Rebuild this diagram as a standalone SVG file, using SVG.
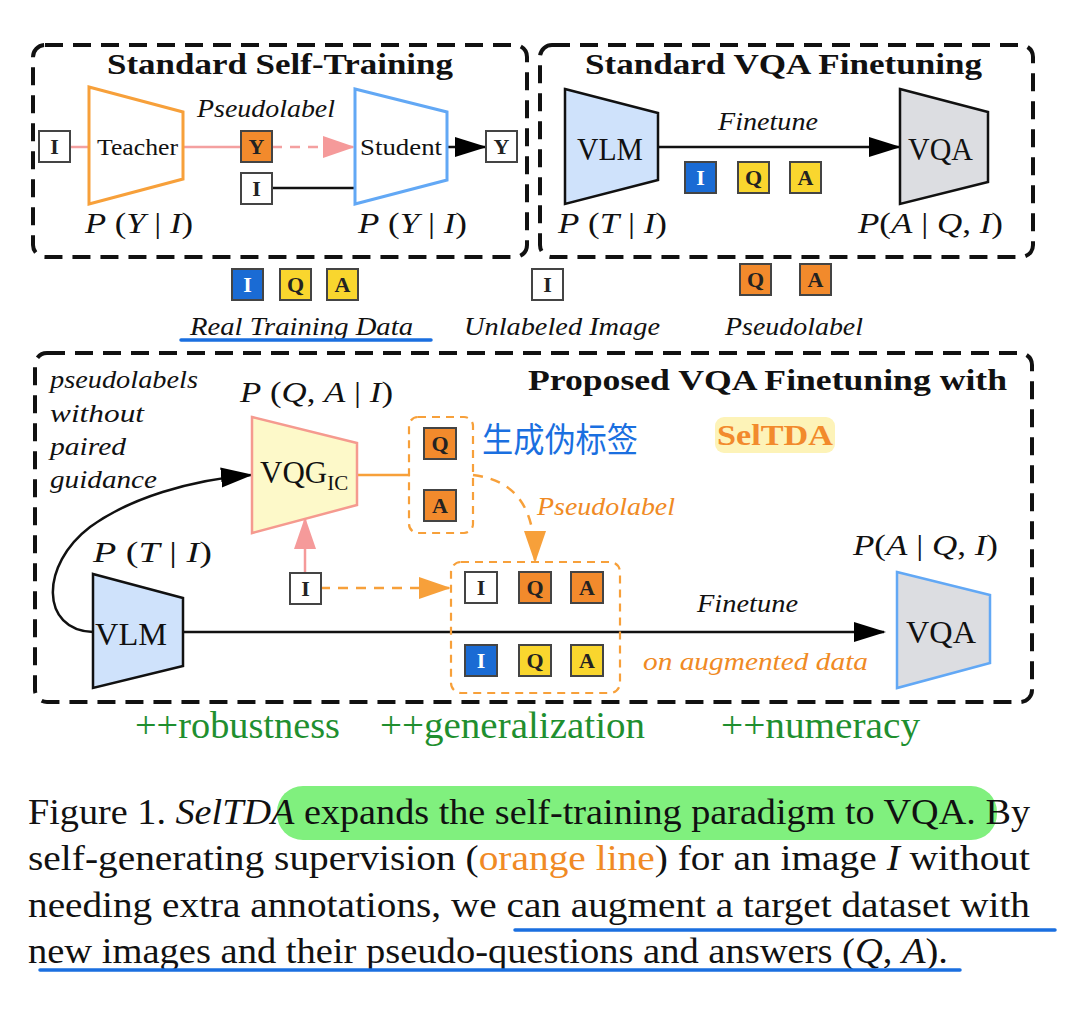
<svg xmlns="http://www.w3.org/2000/svg" width="1074" height="1011" viewBox="0 0 1074 1011">
<style>
text{font-family:"Liberation Serif","Times New Roman",Times,serif}
.panel{fill:none;stroke:#111;stroke-width:4;stroke-dasharray:18 10}
.title{font-weight:bold;font-size:29px;fill:#111}
.it{font-style:italic;font-size:25px;fill:#111}
.rm{font-size:23px;fill:#111}
.math{font-size:29px;fill:#111}
.math .v{font-style:italic}
.big{font-size:31px;fill:#111}
.box{stroke:#444;stroke-width:2}
.bw{fill:#fff}.bb{fill:#1a6bd4}.by{fill:#f9d62e}.bo{fill:#f28a2c}
.bl{font-weight:bold;font-size:22px;text-anchor:middle;fill:#222}
.green{font-size:38px;fill:#1f8f2f}
.cap{font-size:36px;fill:#111}
.ul{stroke:#1a6fe0;stroke-width:3.5;stroke-linecap:round;fill:none}
</style>
<defs>
<marker id="ab" markerUnits="userSpaceOnUse" markerWidth="32" markerHeight="22" refX="30" refY="10" orient="auto"><path d="M0,0 L32,10 L0,20 z" fill="#000"/></marker>
<marker id="ap" markerUnits="userSpaceOnUse" markerWidth="32" markerHeight="24" refX="30" refY="11" orient="auto"><path d="M0,0 L32,11 L0,22 z" fill="#f59a9a"/></marker>
<marker id="ao" markerUnits="userSpaceOnUse" markerWidth="32" markerHeight="24" refX="30" refY="11" orient="auto"><path d="M0,0 L32,11 L0,22 z" fill="#f7a03a"/></marker>
</defs>
<rect width="1074" height="1011" fill="#fff"/>

<!-- panels -->
<g id="panel-self-training">
<rect class="panel" x="33" y="45" width="494" height="212" rx="12"/>
<text class="title" x="107" y="74" textLength="346" lengthAdjust="spacingAndGlyphs">Standard Self-Training</text>
</g>
<g id="panel-vqa-finetuning">
<rect class="panel" x="540" y="45" width="493" height="212" rx="12"/>
<text class="title" x="585" y="74" textLength="397" lengthAdjust="spacingAndGlyphs">Standard VQA Finetuning</text>
</g>
<g id="panel-proposed">
<rect class="panel" x="35" y="353" width="997" height="349" rx="12"/>
<text class="title" x="528" y="390" textLength="479" lengthAdjust="spacingAndGlyphs">Proposed VQA Finetuning with</text>
<rect x="715" y="417" width="120" height="36" rx="9" fill="#fdf3b8"/>
<text class="title" x="717" y="445" textLength="116" lengthAdjust="spacingAndGlyphs" style="fill:#f28a2c">SelTDA</text>
</g>

<!-- connectors -->
<g id="connectors" fill="none">
<line x1="70" y1="147" x2="89" y2="147" stroke="#f4a0a0" stroke-width="2.5"/>
<line x1="183" y1="147" x2="241" y2="147" stroke="#f4a0a0" stroke-width="2.5"/>
<line x1="272" y1="147" x2="353" y2="147" stroke="#f4a0a0" stroke-width="2.5" stroke-dasharray="10 8" marker-end="url(#ap)"/>
<line x1="272" y1="188" x2="355" y2="188" stroke="#111" stroke-width="2.5"/>
<line x1="447" y1="147" x2="485" y2="147" stroke="#111" stroke-width="2.5" marker-end="url(#ab)"/>
<line x1="658" y1="147" x2="899" y2="147" stroke="#111" stroke-width="2.5" marker-end="url(#ab)"/>
<path d="M93 632 C40 630, 40 565, 90 527 C130 498, 190 480, 251 475" stroke="#111" stroke-width="2.5" marker-end="url(#ab)"/>
<line x1="183" y1="632" x2="884" y2="632" stroke="#111" stroke-width="2.5" marker-end="url(#ab)"/>
<line x1="305" y1="573" x2="305" y2="519" stroke="#f59a9a" stroke-width="2.5" marker-end="url(#ap)"/>
<line x1="320" y1="588" x2="449" y2="588" stroke="#f7a03a" stroke-width="2.5" stroke-dasharray="10 8" marker-end="url(#ao)"/>
<line x1="357" y1="475" x2="410" y2="475" stroke="#f7a03a" stroke-width="2.5"/>
<path d="M473 475 C510 480, 535 500, 535 561" stroke="#f7a03a" stroke-width="2.5" stroke-dasharray="10 8" marker-end="url(#ao)"/>
</g>

<!-- top-left nodes -->
<g id="n-tl-input"><rect class="box bw" x="39" y="131" width="31" height="31"/><text class="bl" x="54.5" y="154">I</text></g>
<g id="n-teacher">
<path d="M89 87 L183 112 L183 179 L89 204 Z" fill="#fff" stroke="#f7a03a" stroke-width="3"/>
<text class="rm" x="97" y="155" textLength="81" lengthAdjust="spacingAndGlyphs">Teacher</text>
<text class="math" x="85" y="233" textLength="108" lengthAdjust="spacingAndGlyphs"><tspan class="v">P</tspan> (<tspan class="v">Y</tspan> | <tspan class="v">I</tspan>)</text>
</g>
<g id="n-pseudo-y">
<text class="it" x="197" y="117" textLength="138" lengthAdjust="spacingAndGlyphs">Pseudolabel</text>
<rect class="box bo" x="241" y="131" width="31" height="31"/><text class="bl" x="256.5" y="154">Y</text>
</g>
<g id="n-tl-input2"><rect class="box bw" x="241" y="173" width="31" height="31"/><text class="bl" x="256.5" y="196">I</text></g>
<g id="n-student">
<path d="M355 89 L447 112 L447 180 L355 204 Z" fill="#fff" stroke="#62a8f5" stroke-width="3"/>
<text class="rm" x="360" y="155" textLength="82" lengthAdjust="spacingAndGlyphs">Student</text>
<text class="math" x="358" y="233" textLength="109" lengthAdjust="spacingAndGlyphs"><tspan class="v">P</tspan> (<tspan class="v">Y</tspan> | <tspan class="v">I</tspan>)</text>
</g>
<g id="n-tl-output"><rect class="box bw" x="486" y="131" width="31" height="31"/><text class="bl" x="501.5" y="154">Y</text></g>

<!-- top-right nodes -->
<g id="n-vlm-top">
<path d="M565 89 L658 113 L658 180 L565 204 Z" fill="#cfe2fb" stroke="#111" stroke-width="2.5"/>
<text class="big" x="577" y="160" textLength="66" lengthAdjust="spacingAndGlyphs">VLM</text>
<text class="math" x="558" y="233" textLength="109" lengthAdjust="spacingAndGlyphs"><tspan class="v">P</tspan> (<tspan class="v">T</tspan> | <tspan class="v">I</tspan>)</text>
</g>
<g id="n-finetune-top">
<text class="it" x="718" y="130" textLength="100" lengthAdjust="spacingAndGlyphs">Finetune</text>
<rect class="box bb" x="685" y="162" width="31" height="31"/><text class="bl" x="700.5" y="185" style="fill:#fff">I</text>
<rect class="box by" x="738" y="162" width="31" height="31"/><text class="bl" x="753.5" y="185">Q</text>
<rect class="box by" x="790" y="162" width="31" height="31"/><text class="bl" x="805.5" y="185">A</text>
</g>
<g id="n-vqa-top">
<path d="M900 89 L988 112 L988 182 L900 204 Z" fill="#dcdde1" stroke="#111" stroke-width="2.5"/>
<text class="big" x="908" y="160" textLength="65" lengthAdjust="spacingAndGlyphs">VQA</text>
<text class="math" x="858" y="233" textLength="145" lengthAdjust="spacingAndGlyphs"><tspan class="v">P</tspan>(<tspan class="v">A</tspan> | <tspan class="v">Q</tspan>, <tspan class="v">I</tspan>)</text>
</g>

<!-- legend -->
<g id="legend-real">
<rect class="box bb" x="232" y="269" width="31" height="31"/><text class="bl" x="247.5" y="292" style="fill:#fff">I</text>
<rect class="box by" x="280" y="269" width="31" height="31"/><text class="bl" x="295.5" y="292">Q</text>
<rect class="box by" x="327" y="269" width="31" height="31"/><text class="bl" x="342.5" y="292">A</text>
<text class="it" x="190" y="335" textLength="223" lengthAdjust="spacingAndGlyphs">Real Training Data</text>
<line class="ul" x1="181" y1="340" x2="431" y2="340"/>
</g>
<g id="legend-unlabeled">
<rect class="box bw" x="532" y="269" width="31" height="31"/><text class="bl" x="547.5" y="292">I</text>
<text class="it" x="464" y="335" textLength="196" lengthAdjust="spacingAndGlyphs">Unlabeled Image</text>
</g>
<g id="legend-pseudo">
<rect class="box bo" x="740" y="264" width="31" height="31"/><text class="bl" x="755.5" y="287">Q</text>
<rect class="box bo" x="800" y="264" width="31" height="31"/><text class="bl" x="815.5" y="287">A</text>
<text class="it" x="725" y="335" textLength="138" lengthAdjust="spacingAndGlyphs">Pseudolabel</text>
</g>

<!-- bottom nodes -->
<g id="n-note">
<text class="it" x="50" y="388" textLength="148" lengthAdjust="spacingAndGlyphs">pseudolabels</text>
<text class="it" x="50" y="422" textLength="94" lengthAdjust="spacingAndGlyphs">without</text>
<text class="it" x="50" y="455" textLength="76" lengthAdjust="spacingAndGlyphs">paired</text>
<text class="it" x="50" y="488" textLength="107" lengthAdjust="spacingAndGlyphs">guidance</text>
</g>
<g id="n-vqg">
<text class="math" x="240" y="402" textLength="153" lengthAdjust="spacingAndGlyphs"><tspan class="v">P</tspan> (<tspan class="v">Q</tspan>, <tspan class="v">A</tspan> | <tspan class="v">I</tspan>)</text>
<path d="M252 417 L357 443 L357 505 L252 533 Z" fill="#fdf9c9" stroke="#f59a8f" stroke-width="2.5"/>
<text class="big" x="260" y="483">VQG<tspan font-size="21" dy="7">IC</tspan></text>
</g>
<g id="n-vlm-bottom">
<text class="math" x="93" y="562" textLength="119" lengthAdjust="spacingAndGlyphs"><tspan class="v">P</tspan> (<tspan class="v">T</tspan> | <tspan class="v">I</tspan>)</text>
<path d="M93 574 L183 598 L183 666 L93 688 Z" fill="#cfe2fb" stroke="#111" stroke-width="2.5"/>
<text class="big" x="95" y="645" textLength="72" lengthAdjust="spacingAndGlyphs">VLM</text>
</g>
<g id="n-img-bottom"><rect class="box bw" x="290" y="573" width="31" height="31"/><text class="bl" x="305.5" y="596">I</text></g>
<g id="n-pseudo-qa">
<rect x="409" y="417" width="64" height="116" rx="9" fill="none" stroke="#f7a03a" stroke-width="2.2" stroke-dasharray="8 6"/>
<rect class="box bo" x="424" y="428" width="32" height="31"/><text class="bl" x="440" y="451">Q</text>
<rect class="box bo" x="424" y="490" width="32" height="31"/><text class="bl" x="440" y="513">A</text>
<text x="482" y="452" style="font-family:'Noto Sans CJK SC',sans-serif" font-size="34" fill="#1a6fe0" textLength="156" lengthAdjust="spacingAndGlyphs">生成伪标签</text>
<text class="it" x="537" y="515" textLength="138" lengthAdjust="spacingAndGlyphs" style="fill:#f08a24">Pseudolabel</text>
</g>
<g id="n-augmented">
<rect x="451" y="562" width="169" height="131" rx="10" fill="none" stroke="#f7a03a" stroke-width="2.2" stroke-dasharray="8 6"/>
<rect class="box bw" x="465" y="572" width="32" height="31"/><text class="bl" x="481" y="595">I</text>
<rect class="box bo" x="519" y="572" width="32" height="31"/><text class="bl" x="535" y="595">Q</text>
<rect class="box bo" x="571" y="572" width="32" height="31"/><text class="bl" x="587" y="595">A</text>
<rect class="box bb" x="465" y="645" width="32" height="31"/><text class="bl" x="481" y="668" style="fill:#fff">I</text>
<rect class="box by" x="519" y="645" width="32" height="31"/><text class="bl" x="535" y="668">Q</text>
<rect class="box by" x="571" y="645" width="32" height="31"/><text class="bl" x="587" y="668">A</text>
</g>
<g id="n-finetune-bottom">
<text class="it" x="697" y="612" textLength="101" lengthAdjust="spacingAndGlyphs">Finetune</text>
<text class="it" x="643" y="670" textLength="225" lengthAdjust="spacingAndGlyphs" style="fill:#f08a24">on augmented data</text>
</g>
<g id="n-vqa-bottom">
<text class="math" x="853" y="555" textLength="145" lengthAdjust="spacingAndGlyphs"><tspan class="v">P</tspan>(<tspan class="v">A</tspan> | <tspan class="v">Q</tspan>, <tspan class="v">I</tspan>)</text>
<path d="M897 572 L990 595 L990 663 L897 688 Z" fill="#dcdde1" stroke="#62a8f5" stroke-width="2.5"/>
<text class="big" x="906" y="643" textLength="70" lengthAdjust="spacingAndGlyphs">VQA</text>
</g>

<!-- benefits -->
<g id="benefits">
<text class="green" x="135" y="738" textLength="205" lengthAdjust="spacingAndGlyphs">++robustness</text>
<text class="green" x="380" y="738" textLength="265" lengthAdjust="spacingAndGlyphs">++generalization</text>
<text class="green" x="721" y="738" textLength="199" lengthAdjust="spacingAndGlyphs">++numeracy</text>
</g>

<!-- caption -->
<g id="caption">
<rect x="277" y="786" width="720" height="54" rx="26" fill="#80f07e"/>
<text class="cap" x="28" y="824" textLength="1002" lengthAdjust="spacingAndGlyphs">Figure 1. <tspan font-style="italic">SelTDA</tspan> expands the self-training paradigm to VQA. By</text>
<text class="cap" x="28" y="870" textLength="1002" lengthAdjust="spacingAndGlyphs">self-generating supervision (<tspan style="fill:#f08a24">orange line</tspan>) for an image <tspan font-style="italic">I</tspan> without</text>
<text class="cap" x="28" y="917" textLength="1002" lengthAdjust="spacingAndGlyphs">needing extra annotations, we can augment a target dataset with</text>
<text class="cap" x="28" y="963" textLength="920" lengthAdjust="spacingAndGlyphs">new images and their pseudo-questions and answers (<tspan font-style="italic">Q</tspan>, <tspan font-style="italic">A</tspan>).</text>
<line class="ul" x1="515" y1="930" x2="1055" y2="930"/>
<line class="ul" x1="40" y1="970" x2="960" y2="970"/>
</g>
</svg>
